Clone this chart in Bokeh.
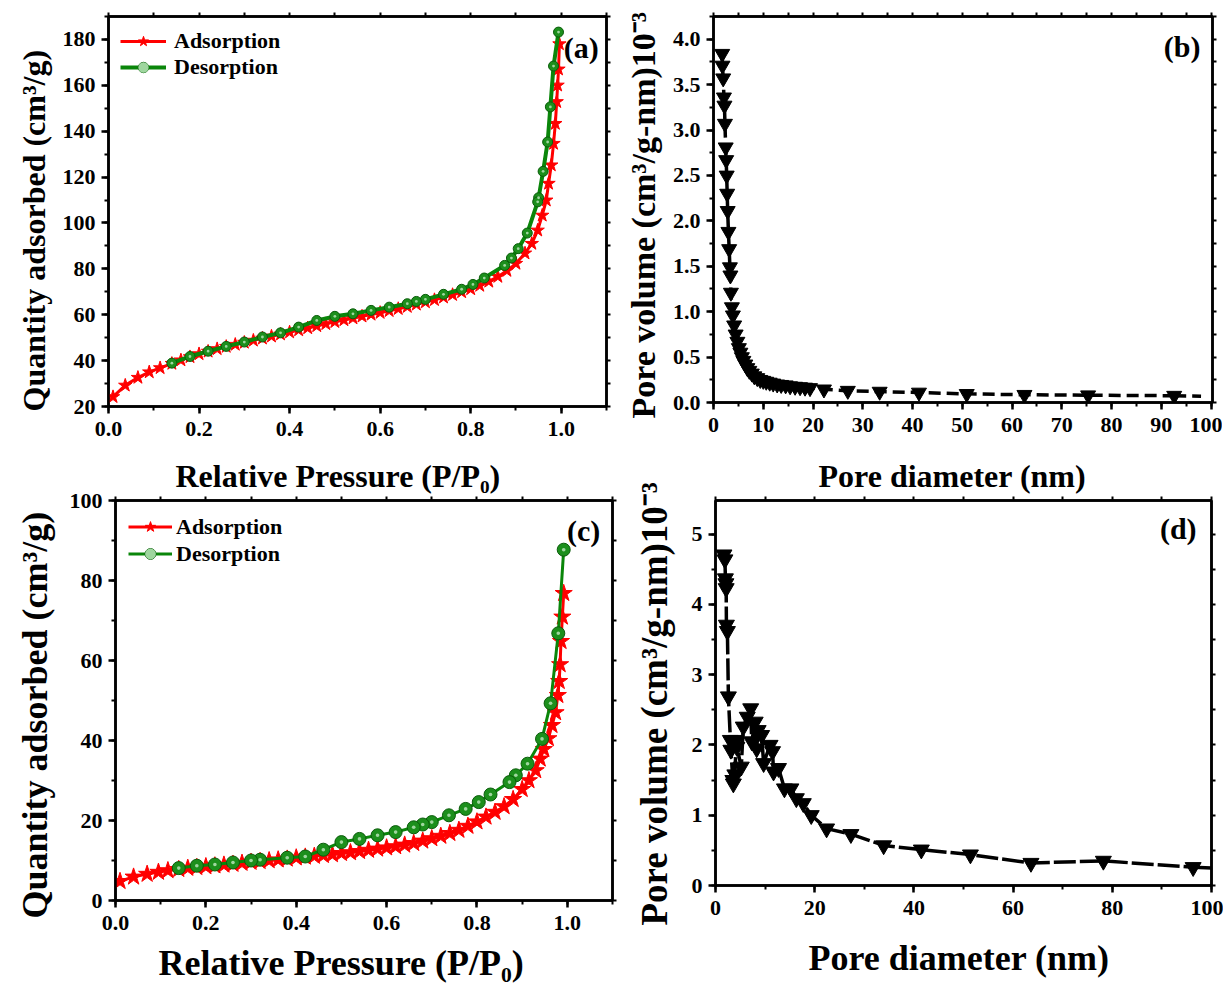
from bokeh.plotting import figure
from bokeh.models import (LinearAxis, Label, Legend, LegendItem, SingleIntervalTicker,
                          FixedTicker, Range1d, NumeralTickFormatter, Title)
from bokeh.layouts import column, row
from bokeh.embed import file_html
from bokeh.resources import INLINE

FONT = "Liberation Serif"
RED = "#ff0000"
GREEN = "#0a860a"
GREEN_FILL = "#1c8f1c"
GREEN_EDGE = "#0a5c0a"
GREEN_HI = "#9fd69f"

# ---------------- data: panel (a) ----------------
a_ads_p = [0.01, 0.037, 0.065, 0.09, 0.114, 0.14, 0.16, 0.18, 0.20, 0.22, 0.24, 0.26, 0.28, 0.30,
           0.32, 0.34, 0.36, 0.38, 0.40, 0.42, 0.44, 0.46, 0.48, 0.50, 0.52, 0.54, 0.56, 0.58,
           0.60, 0.62, 0.64, 0.66, 0.68, 0.70, 0.72, 0.74, 0.76, 0.78, 0.80, 0.82, 0.84, 0.86,
           0.88, 0.90, 0.92, 0.935, 0.948, 0.958, 0.967, 0.972, 0.978, 0.983, 0.987, 0.99,
           0.992, 0.994, 0.996]
a_ads_q = [24.2, 29.2, 32.6, 35.0, 36.8, 38.7, 40.2, 41.6, 42.9, 44.0, 45.1, 46.1, 47.0, 47.9,
           48.8, 49.7, 50.6, 51.5, 52.4, 53.3, 54.2, 55.1, 56.0, 56.9, 57.7, 58.5, 59.3, 60.1,
           60.9, 61.7, 62.6, 63.5, 64.5, 65.5, 66.5, 67.6, 68.7, 69.9, 71.2, 72.7, 74.5, 76.6,
           79.2, 82.3, 86.8, 91.0, 96.8, 103.3, 109.9, 117.2, 125.2, 134.6, 143.3, 152.8,
           160.0, 167.0, 178.0]
a_des_p = [0.994, 0.983, 0.976, 0.97, 0.96, 0.95, 0.948, 0.925, 0.905, 0.89, 0.875, 0.83, 0.805,
           0.78, 0.74, 0.70, 0.68, 0.66, 0.62, 0.58, 0.54, 0.50, 0.46, 0.42, 0.38, 0.34, 0.30,
           0.26, 0.22, 0.18, 0.14]
a_des_q = [183.2, 168.4, 150.6, 135.3, 122.5, 111.0, 109.2, 95.6, 88.8, 84.7, 81.5, 76.0, 73.2,
           71.1, 68.9, 66.7, 65.8, 64.8, 63.3, 61.9, 60.4, 59.3, 57.5, 54.6, 52.1, 50.3, 48.1,
           46.2, 44.1, 41.8, 38.9]

# ---------------- data: panel (b) ----------------
b_d = [1.75, 1.8, 1.95, 2.1, 2.2, 2.3, 2.45, 2.55, 2.65, 2.75, 2.85, 3.0, 3.15, 3.3, 3.4, 3.5,
       3.7, 3.9, 4.15, 4.45, 4.8, 5.1, 5.4, 5.7, 6.0, 6.4, 6.8, 7.2, 7.7, 8.2, 8.8, 9.4, 10.0,
       10.6, 11.3, 12.0, 12.8, 13.6, 14.5, 15.4, 16.4, 17.4, 18.4, 19.4, 22.2, 27.0, 33.4, 41.3,
       50.9, 62.5, 75.3, 92.6]
b_v = [3.84, 3.71, 3.57, 3.36, 3.27, 3.07, 2.81, 2.67, 2.50, 2.30, 2.11, 1.88, 1.69, 1.49, 1.40,
       1.21, 1.05, 0.96, 0.85, 0.75, 0.67, 0.60, 0.55, 0.50, 0.46, 0.42, 0.38, 0.35, 0.32, 0.29,
       0.27, 0.25, 0.24, 0.23, 0.22, 0.21, 0.20, 0.195, 0.19, 0.18, 0.175, 0.17, 0.165, 0.16,
       0.145, 0.13, 0.12, 0.11, 0.095, 0.085, 0.08, 0.075]
b_tail_d = [92.6, 98.0]
b_tail_v = [0.075, 0.07]

# ---------------- data: panel (c) ----------------
c_ads_p = [0.01, 0.04, 0.07, 0.095, 0.116, 0.14, 0.16, 0.18, 0.20, 0.22, 0.24, 0.26, 0.28, 0.30,
           0.32, 0.34, 0.36, 0.38, 0.40, 0.42, 0.44, 0.46, 0.48, 0.50, 0.52, 0.54, 0.56, 0.58,
           0.60, 0.62, 0.64, 0.66, 0.68, 0.70, 0.72, 0.74, 0.76, 0.78, 0.80, 0.82, 0.84, 0.86,
           0.88, 0.90, 0.915, 0.93, 0.94, 0.948, 0.958, 0.966, 0.974, 0.979, 0.982, 0.984,
           0.986, 0.989, 0.992]
c_ads_q = [4.8, 5.9, 6.6, 7.1, 7.5, 7.8, 8.1, 8.3, 8.5, 8.7, 8.9, 9.1, 9.35, 9.6,
           9.8, 10.0, 10.2, 10.4, 10.7, 10.9, 11.1, 11.3, 11.5, 11.8, 12.0, 12.3, 12.6, 12.9,
           13.2, 13.5, 13.9, 14.3, 14.9, 15.5, 16.1, 16.8, 17.6, 18.6, 19.7, 20.9, 22.1, 23.5,
           25.3, 27.8, 30.0, 32.5, 35.4, 37.8, 40.5, 43.8, 47.0, 51.3, 54.8, 59.0,
           64.8, 70.9, 76.8]
c_des_p = [0.992, 0.98, 0.963, 0.944, 0.912, 0.886, 0.872, 0.83, 0.804, 0.775, 0.738, 0.70, 0.68,
           0.66, 0.62, 0.58, 0.54, 0.50, 0.46, 0.42, 0.38, 0.32, 0.30, 0.26, 0.22, 0.18, 0.14]
c_des_q = [87.7, 66.8, 49.3, 40.4, 34.2, 31.3, 29.6, 26.5, 24.6, 22.9, 21.3, 19.6, 19.0,
           18.3, 17.1, 16.3, 15.4, 14.6, 12.7, 11.0, 10.7, 10.2, 10.0, 9.5, 9.0, 8.7, 8.1]

# ---------------- data: panel (d) ----------------
d_d = [1.7, 1.9, 2.0, 2.1, 2.15, 2.2, 2.4, 2.6, 3.0, 3.1, 3.5, 3.6, 3.9, 4.2, 4.3, 5.2, 5.6, 6.4,
       7.1, 7.3, 8.0, 8.3, 8.6, 9.3, 9.7, 11.0, 11.5, 11.7, 12.7, 13.9, 15.2, 16.3, 17.7, 19.3,
       22.4, 27.3, 33.9, 41.5, 51.4, 63.6, 78.2, 96.3]
d_v = [4.71, 4.64, 4.37, 4.30, 4.23, 3.71, 3.62, 2.69, 2.07, 1.93, 1.50, 1.45, 1.58, 2.07, 1.97,
       1.69, 2.26, 2.40, 2.52, 2.05, 2.33, 1.95, 2.21, 2.14, 1.74, 2.00, 1.91, 1.62, 1.67, 1.38,
       1.38, 1.24, 1.17, 1.00, 0.81, 0.73, 0.57, 0.51, 0.44, 0.32, 0.35, 0.26]
d_tail_d = [96.3, 100.0]
d_tail_v = [0.26, 0.25]

# ---------------- texts ----------------
labels_panel = ["(a)", "(b)", "(c)", "(d)"]
xlab_iso = "Relative Pressure (P/P\u2080)"
ylab_iso = "Quantity adsorbed (cm\u00b3/g)"
xlab_pore = "Pore diameter (nm)"
ylab_pore = "Pore volume (cm\u00b3/g-nm)10\u207b\u00b3"
legend_names = ["Adsorption", "Desorption"]


def base(xr, yr, fw, fh, bl, br, bt, bb):
    p = figure(x_range=Range1d(*xr), y_range=Range1d(*yr), frame_width=fw, frame_height=fh,
               min_border_left=bl, min_border_right=br, min_border_top=bt, min_border_bottom=bb,
               output_backend="svg", toolbar_location=None)
    p.grid.visible = False
    p.outline_line_color = "black"
    p.outline_line_width = 2.5
    p.background_fill_color = "white"
    p.border_fill_color = "white"
    return p


def style_axis(ax, interval, fmt, tick_standoff=6):
    ax.ticker = SingleIntervalTicker(interval=interval, num_minor_ticks=2)
    ax.formatter = NumeralTickFormatter(format=fmt)
    ax.axis_line_width = 2.5
    ax.axis_line_color = "black"
    ax.major_tick_line_width = 2.5
    ax.minor_tick_line_width = 2
    ax.major_tick_out = 7
    ax.major_tick_in = 0
    ax.minor_tick_out = 4
    ax.minor_tick_in = 0
    ax.major_label_text_font = FONT
    ax.major_label_text_font_style = "bold"
    ax.major_label_text_font_size = "22px"
    ax.major_label_text_color = "black"
    ax.major_label_standoff = tick_standoff


def mirror_axes(p, xticks, yticks):
    for loc, ticks in (("right", yticks), ("above", xticks)):
        ax = LinearAxis(ticker=FixedTicker(ticks=[], minor_ticks=ticks))
        ax.axis_line_width = 2.5
        ax.minor_tick_line_width = 2
        ax.minor_tick_out = 4
        ax.minor_tick_in = 0
        ax.major_label_standoff = 0
        p.add_layout(ax, loc)


def side_text(p, text, loc, offset, size, standoff):
    # axis title drawn in a border panel, left-aligned with an offset from the frame edge
    p.add_layout(Title(text=text, align="left", offset=offset, standoff=standoff,
                       text_font=FONT, text_font_style="bold", text_font_size=size,
                       text_color="black"), loc)


def panel_label(p, x, y, text):
    p.add_layout(Label(x=x, y=y, text=text, text_font=FONT, text_font_style="bold",
                       text_font_size="30px", text_align="center", text_baseline="middle",
                       text_color="black"))


def isotherm(p, ads_p, ads_q, des_p, des_q, star_size, circ_size, lw_a, lw_d, margin, padding,
             gh, leg_size, gw, standoff):
    la = p.line(ads_p, ads_q, line_color=RED, line_width=lw_a)
    sa = p.scatter(ads_p, ads_q, marker="star", size=star_size, fill_color=RED, line_color=RED,
                   line_width=1)
    ld = p.line(des_p, des_q, line_color=GREEN, line_width=lw_d)
    sd = p.scatter(des_p, des_q, marker="circle", size=circ_size, fill_color=GREEN_FILL,
                   line_color=GREEN_EDGE, line_width=1)
    hd = p.scatter(des_p, des_q, marker="circle", size=circ_size * 0.28, fill_color=GREEN_HI,
                   line_color=None)
    leg = Legend(items=[LegendItem(label=legend_names[0], renderers=[la, sa]),
                        LegendItem(label=legend_names[1], renderers=[ld, sd, hd])],
                 location="top_left")
    leg.margin = margin
    leg.padding = padding
    leg.spacing = 0
    leg.glyph_width = gw
    leg.glyph_height = gh
    leg.label_height = gh
    leg.label_standoff = standoff
    leg.border_line_color = None
    leg.background_fill_alpha = 0
    leg.label_text_font = FONT
    leg.label_text_font_style = "bold"
    leg.label_text_font_size = leg_size
    leg.label_text_color = "black"
    p.add_layout(leg)


# ---------------- panel (a) ----------------
pa = base((0, 1.1), (20, 190), 498, 390, 108, 6, 15, 45)
style_axis(pa.xaxis[0], 0.2, "0.0", tick_standoff=8)
style_axis(pa.yaxis[0], 20, "0")
mirror_axes(pa, [i / 10 for i in range(12)], list(range(20, 191, 10)))
side_text(pa, ylab_iso, "left", -5, "32px", 16)
isotherm(pa, a_ads_p, a_ads_q, a_des_p, a_des_q, 14, 10, 3, 4, 12, 8, 26, "22px", 46, 8)
panel_label(pa, 1.044, 176.5, labels_panel[0])

# ---------------- panel (b) ----------------
pb = base((0, 100.3), (0, 4.25), 499, 386, 101, 10, 16, 48)
style_axis(pb.xaxis[0], 10, "0", tick_standoff=8)
style_axis(pb.yaxis[0], 0.5, "0.0")
mirror_axes(pb, list(range(0, 101, 5)), [i * 0.25 for i in range(18)])
side_text(pb, ylab_pore, "left", -16, "34px", 15)
pb.line(b_d, b_v, line_color="black", line_width=3.5, line_dash="12 6")
pb.line(b_tail_d, b_tail_v, line_color="black", line_width=3.5, line_dash="12 6")
pb.scatter(b_d, b_v, marker="inverted_triangle", size=15, fill_color="black", line_color="black")
panel_label(pb, 94.2, 3.92, labels_panel[1])

# ---------------- panel (c) ----------------
pc = base((0, 1.1), (0, 100), 497, 400, 115, 5, 48, 92)
style_axis(pc.xaxis[0], 0.2, "0.0", tick_standoff=8)
style_axis(pc.yaxis[0], 20, "0")
mirror_axes(pc, [i / 10 for i in range(12)], list(range(0, 101, 10)))
side_text(pc, ylab_iso, "left", -18, "36px", 23)
side_text(pc, xlab_iso, "above", 60, "32px", 5)      # x-axis title of panel (a), above (c)
side_text(pc, xlab_iso, "below", 43, "36px", 17)     # x-axis title of panel (c)
isotherm(pc, c_ads_p, c_ads_q, c_des_p, c_des_q, 18, 13, 3, 3, 13, 8, 27, "22px", 44, 4)
panel_label(pc, 1.036, 92.5, labels_panel[2])

# ---------------- panel (d) ----------------
pd_ = base((0, 100), (0, 5.48), 496, 385, 95, 12, 50, 104)
style_axis(pd_.xaxis[0], 20, "0", tick_standoff=8)
style_axis(pd_.yaxis[0], 1, "0")
mirror_axes(pd_, list(range(0, 101, 10)), [i * 0.5 for i in range(11)])
side_text(pd_, ylab_pore, "left", -40, "37px", 28)
side_text(pd_, xlab_pore, "above", 103, "32px", 5)   # x-axis title of panel (b), above (d)
side_text(pd_, xlab_pore, "below", 93, "36px", 37)   # x-axis title of panel (d)
pd_.line(d_d, d_v, line_color="black", line_width=3.5, line_dash="22 4")
pd_.line(d_tail_d, d_tail_v, line_color="black", line_width=3.5)
pd_.scatter(d_d, d_v, marker="inverted_triangle", size=16, fill_color="black", line_color="black")
panel_label(pd_, 93.3, 5.08, labels_panel[3])

layout = column(row(pa, pb), row(pc, pd_))
open("out.html", "w").write(file_html(layout, INLINE, title="BET isotherms and pore size distribution"))
